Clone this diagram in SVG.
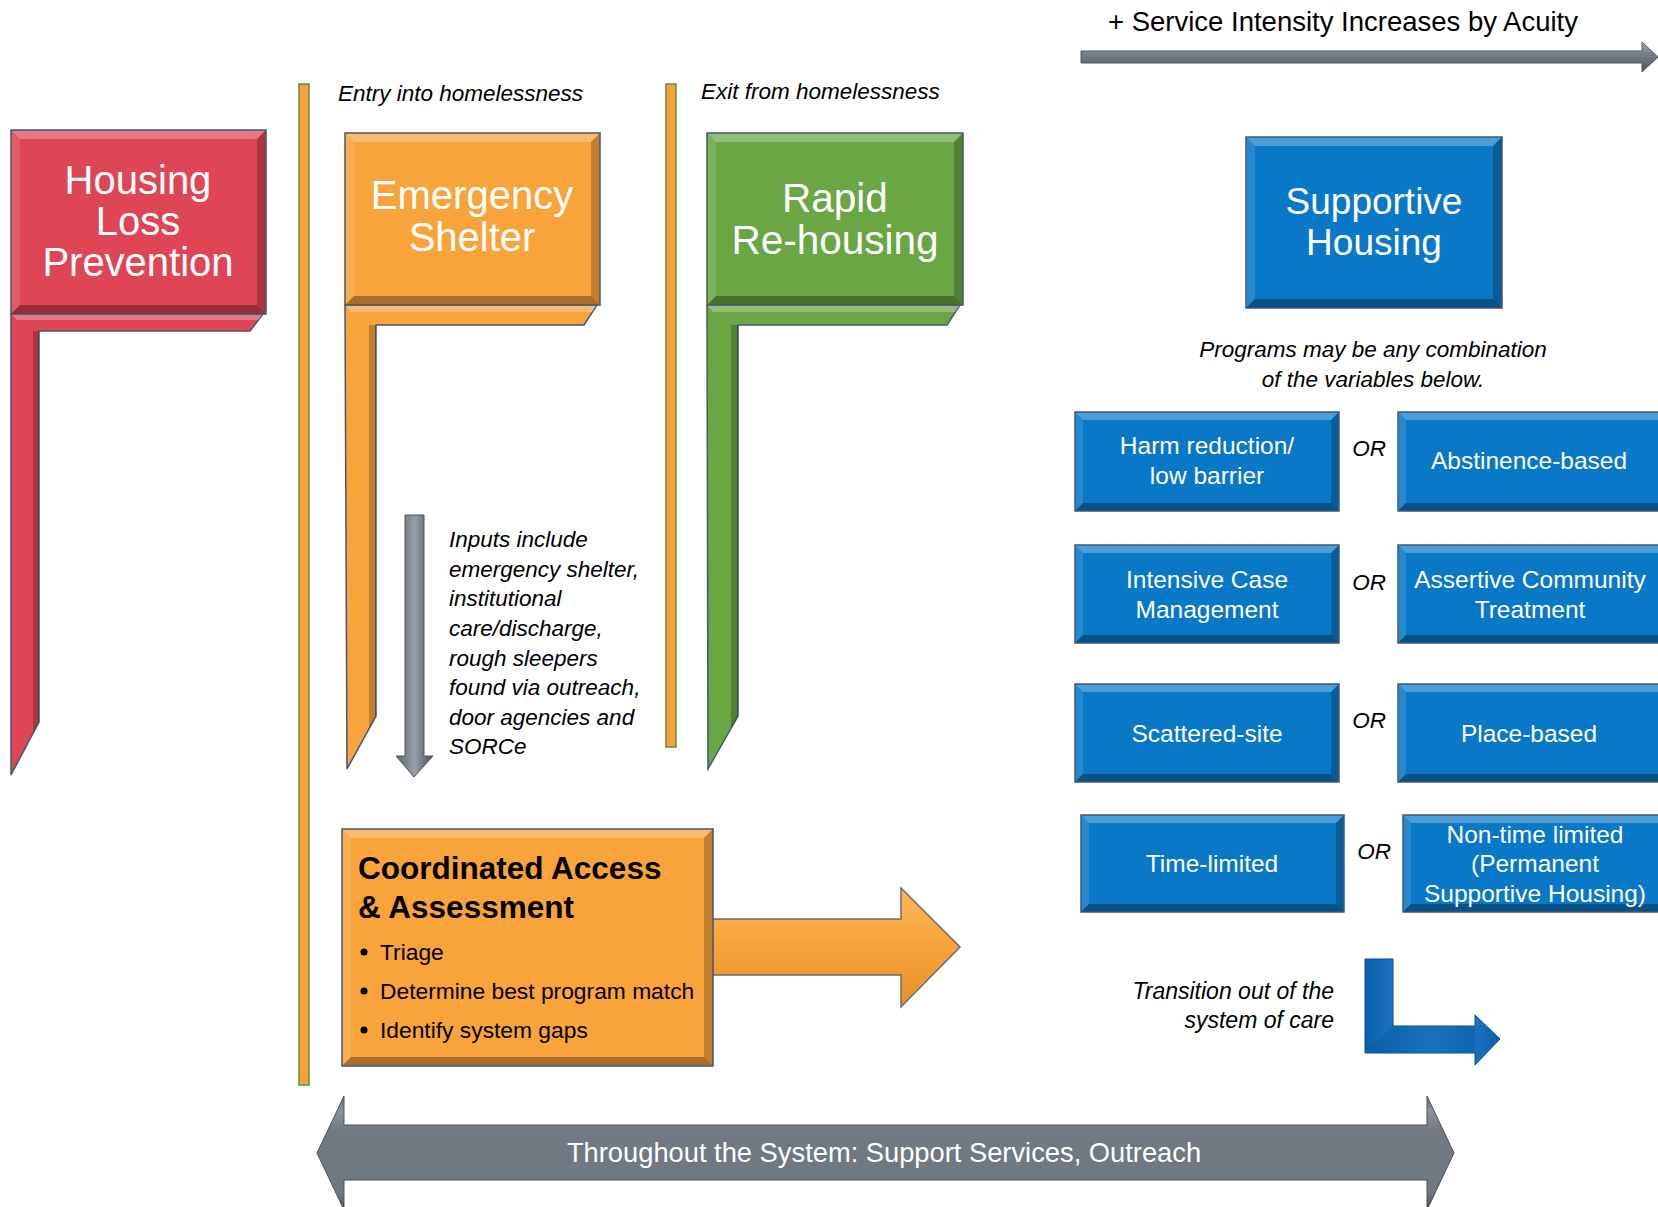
<svg xmlns="http://www.w3.org/2000/svg" width="1658" height="1207" viewBox="0 0 1658 1207">
<defs>
<linearGradient id="gH" x1="0" y1="0" x2="0" y2="1">
<stop offset="0" stop-color="#A9B1B8"/><stop offset="0.35" stop-color="#7A838B"/><stop offset="1" stop-color="#4E565E"/>
</linearGradient>
<linearGradient id="gV" x1="0" y1="0" x2="1" y2="0">
<stop offset="0" stop-color="#555D65"/><stop offset="0.5" stop-color="#98A1A9"/><stop offset="1" stop-color="#454D55"/>
</linearGradient>
<linearGradient id="gBig" x1="0" y1="0" x2="0" y2="1">
<stop offset="0" stop-color="#5A636B"/><stop offset="0.12" stop-color="#8C959D"/><stop offset="0.3" stop-color="#717A82"/><stop offset="0.85" stop-color="#6F7880"/><stop offset="1" stop-color="#4A5259"/>
</linearGradient>
<linearGradient id="gBlueArr" x1="0" y1="0" x2="1" y2="0">
<stop offset="0" stop-color="#0A5FA8"/><stop offset="0.5" stop-color="#2E93E0"/><stop offset="1" stop-color="#0A5FA8"/>
</linearGradient>
<linearGradient id="gOrArr" x1="0" y1="0" x2="0" y2="1">
<stop offset="0" stop-color="#FBB85A"/><stop offset="0.5" stop-color="#F7A23A"/><stop offset="1" stop-color="#E48F2C"/>
</linearGradient>
</defs>
<style>
.t{font-family:"Liberation Sans",Arial,sans-serif}
.w{fill:#FFFFFF}
.k{fill:#000000}
.it{font-style:italic}
.hl{fill:#FFFFFF;fill-opacity:0.28}
.hl2{fill:#FFFFFF;fill-opacity:0.12}
.dk{fill:#000000;fill-opacity:0.22}
.dk2{fill:#000000;fill-opacity:0.32}
.edge{fill:none;stroke:#435872;stroke-width:1.5}
.red{fill:#DE4555}
.org{fill:#F9A33B}
.grn{fill:#6AA643}
.blu{fill:#0978C6}
.post{stroke:#435872;stroke-width:1.5}
.vline{fill:#F7A13A;stroke:#5E913F;stroke-width:1.5}
.bt{font-size:24.5px}
</style>

<g id="divider-lines">
<rect class="vline" x="299" y="84" width="10" height="1001"/>
<rect class="vline" x="666" y="84" width="10" height="663"/>
</g>

<g id="labels-top">
<text class="t it k" x="338" y="101" font-size="22.5">Entry into homelessness</text>
<text class="t it k" x="701" y="99" font-size="22.5">Exit from homelessness</text>
<text class="t k" x="1108" y="31" font-size="27.5">+ Service Intensity Increases by Acuity</text>
</g>

<g id="connectors">
<polygon points="1081,51 1642,51 1642,42 1658,57 1642,72 1642,63 1081,63" fill="url(#gH)" stroke="#4E565E" stroke-width="1"/>
<polygon points="405,515 424,515 424,756 433,756 414,777 396,756 405,756" fill="url(#gV)" stroke="#4E565E" stroke-width="1"/>
<polygon points="700,919 901,919 901,888 960,947 901,1007 901,975 700,975" fill="url(#gOrArr)" stroke="#6B6B6B" stroke-width="1.5"/>
<polygon points="1365,959 1393,959 1393,1026 1475,1026 1475,1015 1500,1039 1475,1065 1475,1053 1365,1053" fill="url(#gBlueArr)" stroke="#0A4F8C" stroke-width="1"/>
<polygon points="1393,1026 1475,1026 1475,1053 1365,1053" fill="#0B5EA6" fill-opacity="0.6"/>
</g>

<g id="node-housing-loss-prevention">
<polygon class="red post" points="11,314 263,314 250,331 39,331 39,722 11,775"/>
<polygon class="hl" points="11,314 263,314 258,320 17,320"/>
<polygon class="dk" points="33,331 39,331 39,722 33,732"/>
<rect class="red" x="11" y="130" width="255" height="184"/>
<polygon class="hl" points="11,130 266,130 257,139 20,139"/>
<polygon class="hl2" points="11,130 20,139 20,305 11,314"/>
<polygon class="dk" points="266,130 266,314 257,305 257,139"/>
<polygon class="dk2" points="11,314 266,314 257,305 20,305"/>
<rect class="edge" x="11" y="130" width="255" height="184"/>
<text class="t w" text-anchor="middle" font-size="40"><tspan x="138" y="194">Housing</tspan><tspan x="138" y="235">Loss</tspan><tspan x="138" y="276">Prevention</tspan></text>
</g>

<g id="node-emergency-shelter">
<polygon class="org post" points="345,305 597,305 584,325 376,325 376,716 347,769"/>
<polygon class="hl" points="345,305 597,305 592,312 351,312"/>
<polygon class="dk" points="369,325 376,325 376,716 369,728"/>
<rect class="org" x="345" y="133" width="255" height="172"/>
<polygon class="hl" points="345,133 600,133 591,142 354,142"/>
<polygon class="hl2" points="345,133 354,142 354,296 345,305"/>
<polygon class="dk" points="600,133 600,305 591,296 591,142"/>
<polygon class="dk2" points="345,305 600,305 591,296 354,296"/>
<rect class="edge" x="345" y="133" width="255" height="172"/>
<text class="t w" text-anchor="middle" font-size="40"><tspan x="472" y="209">Emergency</tspan><tspan x="472" y="251">Shelter</tspan></text>
</g>

<g id="node-rapid-rehousing">
<polygon class="grn post" points="707,305 960,305 947,325 738,325 738,716 708,769"/>
<polygon class="hl" points="707,305 960,305 955,312 713,312"/>
<polygon class="dk" points="731,325 738,325 738,716 731,728"/>
<rect class="grn" x="707" y="133" width="256" height="172"/>
<polygon class="hl" points="707,133 963,133 954,142 716,142"/>
<polygon class="hl2" points="707,133 716,142 716,296 707,305"/>
<polygon class="dk" points="963,133 963,305 954,296 954,142"/>
<polygon class="dk2" points="707,305 963,305 954,296 716,296"/>
<rect class="edge" x="707" y="133" width="256" height="172"/>
<text class="t w" text-anchor="middle" font-size="40.5"><tspan x="835" y="212">Rapid</tspan><tspan x="835" y="254">Re-housing</tspan></text>
</g>

<g id="node-inputs-note">
<text class="t it k" font-size="22.5"><tspan x="449" y="547">Inputs include</tspan><tspan x="449" y="577">emergency shelter,</tspan><tspan x="449" y="606">institutional</tspan><tspan x="449" y="636">care/discharge,</tspan><tspan x="449" y="666">rough sleepers</tspan><tspan x="449" y="695">found via outreach,</tspan><tspan x="449" y="725">door agencies and</tspan><tspan x="449" y="754">SORCe</tspan></text>
</g>

<g id="node-coordinated-access">
<rect class="org" x="342" y="829" width="371" height="237"/>
<polygon class="hl" points="342,829 713,829 704,838 351,838"/>
<polygon class="hl2" points="342,829 351,838 351,1057 342,1066"/>
<polygon class="dk" points="713,829 713,1066 704,1057 704,838"/>
<polygon class="dk2" points="342,1066 713,1066 704,1057 351,1057"/>
<rect class="edge" x="342" y="829" width="371" height="237" stroke="#6B6B6B"/>
<text class="t k" font-size="31.5" font-weight="bold"><tspan x="358" y="879">Coordinated Access</tspan><tspan x="358" y="918">&amp; Assessment</tspan></text>
<circle class="k" cx="364" cy="952" r="3.5"/>
<circle class="k" cx="364" cy="991" r="3.5"/>
<circle class="k" cx="364" cy="1030" r="3.5"/>
<text class="t k" font-size="22.8"><tspan x="380" y="960">Triage</tspan><tspan x="380" y="999">Determine best program match</tspan><tspan x="380" y="1038">Identify system gaps</tspan></text>
</g>

<g id="node-supportive-housing">
<rect class="blu" x="1246" y="137" width="256" height="171"/>
<polygon class="hl" points="1246,137 1502,137 1493,146 1255,146"/>
<polygon class="hl2" points="1246,137 1255,146 1255,299 1246,308"/>
<polygon class="dk" points="1502,137 1502,308 1493,299 1493,146"/>
<polygon class="dk2" points="1246,308 1502,308 1493,299 1255,299"/>
<rect class="edge" x="1246" y="137" width="256" height="171"/>
<text class="t w" text-anchor="middle" font-size="37"><tspan x="1374" y="214">Supportive</tspan><tspan x="1374" y="255">Housing</tspan></text>
</g>

<g id="node-programs-note">
<text class="t it k" text-anchor="middle" font-size="22.5"><tspan x="1373" y="357">Programs may be any combination</tspan><tspan x="1373" y="387">of the variables below.</tspan></text>
</g>

<g id="node-harm-reduction">
<rect class="blu" x="1075" y="412" width="264" height="99"/>
<polygon class="hl" points="1075,412 1339,412 1331,420 1083,420"/>
<polygon class="hl2" points="1075,412 1083,420 1083,503 1075,511"/>
<polygon class="dk" points="1339,412 1339,511 1331,503 1331,420"/>
<polygon class="dk2" points="1075,511 1339,511 1331,503 1083,503"/>
<rect class="edge" x="1075" y="412" width="264" height="99"/>
<text class="t w bt" text-anchor="middle"><tspan x="1207" y="454">Harm reduction/</tspan><tspan x="1207" y="484">low barrier</tspan></text>
</g>
<g id="node-abstinence">
<rect class="blu" x="1398" y="412" width="272" height="99"/>
<polygon class="hl" points="1398,412 1670,412 1662,420 1406,420"/>
<polygon class="hl2" points="1398,412 1406,420 1406,503 1398,511"/>
<polygon class="dk2" points="1398,511 1670,511 1662,503 1406,503"/>
<rect class="edge" x="1398" y="412" width="272" height="99"/>
<text class="t w bt" text-anchor="middle" x="1529" y="469">Abstinence-based</text>
</g>
<g id="node-icm">
<rect class="blu" x="1075" y="545" width="264" height="98"/>
<polygon class="hl" points="1075,545 1339,545 1331,553 1083,553"/>
<polygon class="hl2" points="1075,545 1083,553 1083,635 1075,643"/>
<polygon class="dk" points="1339,545 1339,643 1331,635 1331,553"/>
<polygon class="dk2" points="1075,643 1339,643 1331,635 1083,635"/>
<rect class="edge" x="1075" y="545" width="264" height="98"/>
<text class="t w bt" text-anchor="middle"><tspan x="1207" y="588">Intensive Case</tspan><tspan x="1207" y="618">Management</tspan></text>
</g>
<g id="node-act">
<rect class="blu" x="1398" y="545" width="272" height="98"/>
<polygon class="hl" points="1398,545 1670,545 1662,553 1406,553"/>
<polygon class="hl2" points="1398,545 1406,553 1406,635 1398,643"/>
<polygon class="dk2" points="1398,643 1670,643 1662,635 1406,635"/>
<rect class="edge" x="1398" y="545" width="272" height="98"/>
<text class="t w bt" text-anchor="middle"><tspan x="1530" y="588">Assertive Community</tspan><tspan x="1530" y="618">Treatment</tspan></text>
</g>
<g id="node-scattered">
<rect class="blu" x="1075" y="684" width="264" height="98"/>
<polygon class="hl" points="1075,684 1339,684 1331,692 1083,692"/>
<polygon class="hl2" points="1075,684 1083,692 1083,774 1075,782"/>
<polygon class="dk" points="1339,684 1339,782 1331,774 1331,692"/>
<polygon class="dk2" points="1075,782 1339,782 1331,774 1083,774"/>
<rect class="edge" x="1075" y="684" width="264" height="98"/>
<text class="t w bt" text-anchor="middle" x="1207" y="742">Scattered-site</text>
</g>
<g id="node-place">
<rect class="blu" x="1398" y="684" width="272" height="98"/>
<polygon class="hl" points="1398,684 1670,684 1662,692 1406,692"/>
<polygon class="hl2" points="1398,684 1406,692 1406,774 1398,782"/>
<polygon class="dk2" points="1398,782 1670,782 1662,774 1406,774"/>
<rect class="edge" x="1398" y="684" width="272" height="98"/>
<text class="t w bt" text-anchor="middle" x="1529" y="742">Place-based</text>
</g>
<g id="node-time-limited">
<rect class="blu" x="1081" y="815" width="263" height="97"/>
<polygon class="hl" points="1081,815 1344,815 1336,823 1089,823"/>
<polygon class="hl2" points="1081,815 1089,823 1089,904 1081,912"/>
<polygon class="dk" points="1344,815 1344,912 1336,904 1336,823"/>
<polygon class="dk2" points="1081,912 1344,912 1336,904 1089,904"/>
<rect class="edge" x="1081" y="815" width="263" height="97"/>
<text class="t w bt" text-anchor="middle" x="1212" y="872">Time-limited</text>
</g>
<g id="node-non-time-limited">
<rect class="blu" x="1403" y="815" width="267" height="97"/>
<polygon class="hl" points="1403,815 1670,815 1662,823 1411,823"/>
<polygon class="hl2" points="1403,815 1411,823 1411,904 1403,912"/>
<polygon class="dk2" points="1403,912 1670,912 1662,904 1411,904"/>
<rect class="edge" x="1403" y="815" width="267" height="97"/>
<text class="t w bt" text-anchor="middle"><tspan x="1535" y="843">Non-time limited</tspan><tspan x="1535" y="872">(Permanent</tspan><tspan x="1535" y="902">Supportive Housing)</tspan></text>
</g>

<g id="or-labels">
<text class="t it k" text-anchor="middle" font-size="22.5" x="1369" y="456">OR</text>
<text class="t it k" text-anchor="middle" font-size="22.5" x="1369" y="590">OR</text>
<text class="t it k" text-anchor="middle" font-size="22.5" x="1369" y="728">OR</text>
<text class="t it k" text-anchor="middle" font-size="22.5" x="1374" y="859">OR</text>
</g>

<g id="node-transition-note">
<text class="t it k" text-anchor="end" font-size="23"><tspan x="1334" y="999">Transition out of the</tspan><tspan x="1334" y="1028">system of care</tspan></text>
</g>

<g id="node-throughout-system">
<polygon points="317,1153 344,1096 344,1125 1427,1125 1427,1096 1454,1153 1427,1210 1427,1180 344,1180 344,1210" fill="url(#gBig)" stroke="#4A5259" stroke-width="1"/>
<text class="t w" text-anchor="middle" font-size="27.3" x="884" y="1162">Throughout the System: Support Services, Outreach</text>
</g>
</svg>
